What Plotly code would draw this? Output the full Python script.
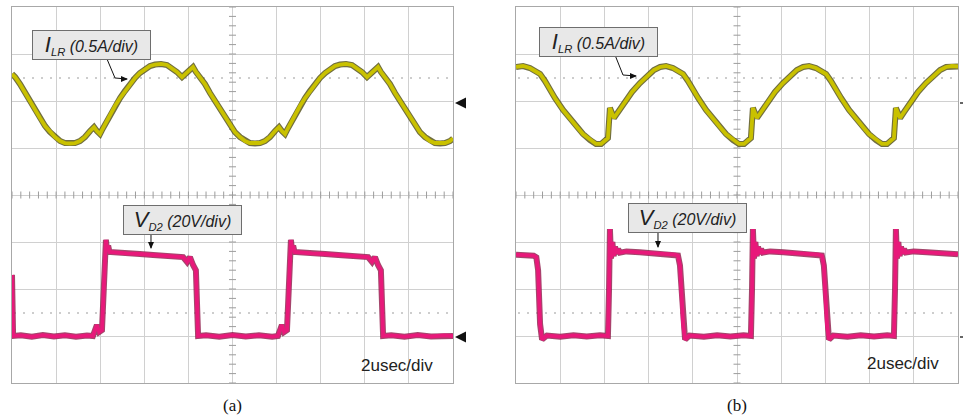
import numpy as np
import plotly.graph_objects as go

# ---------------- data ----------------
# time in microseconds (2 us/div, 10 div), current in A (0.5 A/div), voltage in V (20 V/div)
t_ilr_a = [0.00, 0.14, 0.36, 0.59, 0.82, 1.04, 1.27, 1.50, 1.72, 1.95,
           2.18, 2.40, 2.63, 2.86, 3.08, 3.31, 3.54, 3.72, 3.85, 3.99,
           4.08, 4.22, 4.44, 4.67, 4.90, 5.12, 5.35, 5.58, 5.80, 6.03,
           6.26, 6.49, 6.76, 7.03, 7.26, 7.48, 7.71, 7.89, 8.07, 8.21,
           8.34, 8.53, 8.75, 8.98, 9.21, 9.43, 9.66, 9.89, 10.11, 10.34,
           10.57, 10.79, 11.02, 11.25, 11.47, 11.70, 11.93, 12.11, 12.24, 12.38,
           12.47, 12.61, 12.83, 13.06, 13.29, 13.51, 13.74, 13.97, 14.20, 14.42,
           14.65, 14.88, 15.15, 15.42, 15.65, 15.87, 16.10, 16.28, 16.46, 16.60,
           16.73, 16.92, 17.14, 17.37, 17.60, 17.82, 18.05, 18.28, 18.50, 18.73,
           18.96, 19.18, 19.41, 19.64, 19.86, 20.00]
i_lr_a = [0.287, 0.255, 0.181, 0.085, 0.000, -0.096, -0.181, -0.266, -0.330, -0.383,
          -0.426, -0.447, -0.452, -0.447, -0.426, -0.383, -0.319, -0.277, -0.319, -0.351,
          -0.309, -0.245, -0.149, -0.053, 0.032, 0.106, 0.181, 0.245, 0.298, 0.340,
          0.372, 0.388, 0.394, 0.383, 0.351, 0.309, 0.255, 0.298, 0.340, 0.362,
          0.309, 0.255, 0.181, 0.085, 0.000, -0.096, -0.181, -0.266, -0.330, -0.383,
          -0.426, -0.447, -0.452, -0.447, -0.426, -0.383, -0.319, -0.277, -0.319, -0.351,
          -0.309, -0.245, -0.149, -0.053, 0.032, 0.106, 0.181, 0.245, 0.298, 0.340,
          0.372, 0.388, 0.394, 0.383, 0.351, 0.309, 0.255, 0.298, 0.340, 0.362,
          0.309, 0.255, 0.181, 0.085, 0.000, -0.096, -0.181, -0.266, -0.330, -0.383,
          -0.426, -0.447, -0.452, -0.447, -0.426, -0.400]

t_vd2_a = [0.00, 0.05, 0.40, 0.90, 1.40, 1.90, 2.40, 2.90, 3.40, 3.67,
           3.85, 3.95, 4.08, 4.17, 4.22, 4.26, 4.31, 4.36, 4.42, 4.60,
           5.20, 5.80, 6.40, 7.00, 7.60, 7.76, 7.94, 8.07, 8.21, 8.34,
           8.44, 8.80, 9.40, 10.00, 10.60, 11.20, 11.80, 12.06, 12.24, 12.34,
           12.47, 12.56, 12.61, 12.65, 12.70, 12.75, 12.81, 13.00, 13.60, 14.20,
           14.80, 15.40, 16.00, 16.15, 16.33, 16.46, 16.60, 16.73, 16.83, 17.20,
           17.80, 18.40, 19.00, 19.60, 20.00]
v_d2_a = [26.0, 0.0, 0.3, -0.3, 0.4, -0.2, 0.3, -0.3, 0.2, 0.0,
          4.7, 1.7, 2.5, 20.0, 35.0, 40.9, 36.5, 38.5, 35.8, 35.6,
          35.2, 34.9, 34.5, 34.1, 33.8, 33.6, 31.5, 33.6, 30.2, 28.0,
          0.0, 0.3, -0.3, 0.4, -0.2, 0.3, -0.3, 0.0, 4.7, 1.7,
          2.5, 20.0, 35.0, 40.9, 36.5, 38.5, 35.8, 35.6, 35.2, 34.9,
          34.5, 34.1, 33.8, 33.6, 31.5, 33.6, 30.2, 28.0, 0.0, 0.3,
          -0.3, 0.4, -0.2, 0.3, 0.0]

t_ilr_b = [0.00, 0.32, 0.63, 0.95, 1.09, 1.31, 1.54, 1.76, 2.13, 2.44,
           2.76, 3.03, 3.35, 3.62, 3.85, 4.03, 4.16, 4.25, 4.43, 4.62,
           4.89, 5.25, 5.61, 5.97, 6.24, 6.52, 6.79, 7.10, 7.42, 7.56,
           7.78, 8.01, 8.24, 8.60, 8.91, 9.23, 9.50, 9.82, 10.09, 10.32,
           10.50, 10.63, 10.72, 10.90, 11.09, 11.36, 11.72, 12.08, 12.44, 12.71,
           12.99, 13.26, 13.57, 13.89, 14.03, 14.25, 14.48, 14.71, 15.07, 15.38,
           15.70, 15.97, 16.29, 16.56, 16.79, 16.97, 17.10, 17.19, 17.38, 17.56,
           17.83, 18.19, 18.55, 18.91, 19.19, 19.46, 19.73, 20.00]
i_lr_b = [0.362, 0.372, 0.351, 0.309, 0.287, 0.213, 0.117, 0.032, -0.096, -0.191,
          -0.277, -0.351, -0.415, -0.457, -0.457, -0.426, -0.394, -0.074, -0.181, -0.117,
          -0.021, 0.096, 0.191, 0.277, 0.330, 0.362, 0.372, 0.351, 0.309, 0.287,
          0.213, 0.117, 0.032, -0.096, -0.191, -0.277, -0.351, -0.415, -0.457, -0.457,
          -0.426, -0.394, -0.074, -0.181, -0.117, -0.021, 0.096, 0.191, 0.277, 0.330,
          0.362, 0.372, 0.351, 0.309, 0.287, 0.213, 0.117, 0.032, -0.096, -0.191,
          -0.277, -0.351, -0.415, -0.457, -0.457, -0.426, -0.394, -0.074, -0.181, -0.117,
          -0.021, 0.096, 0.191, 0.277, 0.330, 0.362, 0.372, 0.367]

t_vd2_b = [0.00, 0.40, 0.80, 0.92, 1.00, 1.09, 1.18, 1.40, 2.00, 2.60,
           3.20, 3.80, 4.16, 4.21, 4.25, 4.30, 4.36, 4.42, 4.48, 4.55,
           4.62, 4.70, 5.00, 5.60, 6.20, 6.80, 7.20, 7.33, 7.42, 7.56,
           7.65, 7.85, 8.50, 9.10, 9.70, 10.30, 10.63, 10.68, 10.72, 10.77,
           10.83, 10.89, 10.95, 11.02, 11.09, 11.17, 11.50, 12.10, 12.70, 13.30,
           13.70, 13.84, 13.93, 14.07, 14.16, 14.36, 15.00, 15.60, 16.20, 16.80,
           17.10, 17.15, 17.19, 17.24, 17.30, 17.36, 17.42, 17.49, 17.56, 17.64,
           18.00, 18.60, 19.20, 20.00]
v_d2_b = [34.6, 34.4, 34.2, 33.5, 28.0, 5.0, -1.5, 0.2, -0.3, 0.3,
          -0.2, 0.3, 0.0, 20.0, 45.5, 33.0, 40.0, 34.0, 38.0, 35.0,
          37.0, 35.5, 36.0, 35.6, 35.3, 35.0, 34.6, 34.2, 30.0, 5.0,
          -1.5, 0.2, -0.3, 0.3, -0.2, 0.3, 0.0, 20.0, 45.5, 33.0,
          40.0, 34.0, 38.0, 35.0, 37.0, 35.5, 36.0, 35.6, 35.3, 35.0,
          34.6, 34.2, 30.0, 5.0, -1.5, 0.2, -0.3, 0.3, -0.2, 0.3,
          0.0, 20.0, 45.5, 33.0, 40.0, 34.0, 38.0, 35.0, 37.0, 35.5,
          36.0, 35.6, 35.3, 34.8]

# scope channel settings (scale per division, ground position in divisions)
CH1_SCALE, CH1_GND = 0.5, 6.0
CH2_SCALE, CH2_GND = 20.0, 1.0

label_ilr = "<i><span style='font-size:22px'>I</span><sub>LR</sub> (0.5A/div)</i>"
label_vd2 = "<i><span style='font-size:22px'>V</span><sub>D2</sub> (20V/div)</i>"
timebase = "2usec/div"
panel_labels = ["(a)", "(b)"]

# ---------------- figure ----------------
W, H = 963, 417
def PX(x):
    return x / W
def PY(y):
    return 1 - y / H
def path(pts, close=False):
    s = "M " + " L ".join(f"{PX(x):.5f},{PY(y):.5f}" for x, y in pts)
    return s + (" Z" if close else "")

fig = go.Figure()

YEL, YEL_EDGE = "#c9c100", "#4e4b10"
PINK, PINK_EDGE = "#e8197a", "#8e1848"
GRID = "#d0d0d0"

panels = [
    ("x", "y", t_ilr_a, i_lr_a, t_vd2_a, v_d2_a),
    ("x2", "y2", t_ilr_b, i_lr_b, t_vd2_b, v_d2_b),
]

for xa, ya, ti, ii, tv, vv in panels:
    # minor ticks on center cross
    tx = np.arange(0, 20.01, 0.4)
    fig.add_trace(go.Scatter(x=tx, y=np.full_like(tx, 4.0), xaxis=xa, yaxis=ya, mode="markers",
                             marker=dict(symbol="line-ns", size=5, line=dict(width=1, color="#9c9c9c")),
                             hoverinfo="skip", showlegend=False))
    ty = np.arange(0, 8.01, 0.2)
    fig.add_trace(go.Scatter(x=np.full_like(ty, 10.0), y=ty, xaxis=xa, yaxis=ya, mode="markers",
                             marker=dict(symbol="line-ew", size=5, line=dict(width=1, color="#9c9c9c")),
                             hoverinfo="skip", showlegend=False))
    yi = CH1_GND + np.array(ii) / CH1_SCALE
    yv = CH2_GND + np.array(vv) / CH2_SCALE
    for tt, yy, edge, core in [(ti, yi, YEL_EDGE, YEL), (tv, yv, PINK_EDGE, PINK)]:
        fig.add_trace(go.Scatter(x=tt, y=yy, xaxis=xa, yaxis=ya, mode="lines",
                                 line=dict(color=edge, width=6), opacity=0.8,
                                 hoverinfo="skip", showlegend=False))
        fig.add_trace(go.Scatter(x=tt, y=yy, xaxis=xa, yaxis=ya, mode="lines",
                                 line=dict(color=core, width=3.8),
                                 hoverinfo="skip", showlegend=False))

ax_common = dict(range=[0, 20], dtick=2, tick0=0, showgrid=True, gridcolor=GRID, gridwidth=1,
                 zeroline=False, showline=True, mirror=True, linecolor="#a8a8a8", linewidth=1,
                 showticklabels=False, ticks="", fixedrange=True)
ay_common = dict(range=[0, 8], dtick=1, tick0=0, showgrid=True, gridcolor=GRID, gridwidth=1,
                 zeroline=False, showline=True, mirror=True, linecolor="#a8a8a8", linewidth=1,
                 showticklabels=False, ticks="", fixedrange=True)
ydom = [PY(383), PY(7)]
fig.update_layout(
    width=W, height=H, margin=dict(l=0, r=0, t=0, b=0),
    paper_bgcolor="white", plot_bgcolor="white",
    xaxis=dict(domain=[PX(12), PX(453)], anchor="y", **ax_common),
    yaxis=dict(domain=ydom, anchor="x", **ay_common),
    xaxis2=dict(domain=[PX(516), PX(958)], anchor="y2", **ax_common),
    yaxis2=dict(domain=ydom, anchor="x2", **ay_common),
    showlegend=False,
    font=dict(family="Liberation Sans, Arial, sans-serif", color="#222"),
)

shapes = []
annotations = []
# dotted cursor lines
for x0, x1 in [(12, 453), (516, 958)]:
    for yy in (78, 313):
        shapes.append(dict(type="line", xref="paper", yref="paper", x0=PX(x0 + 2), x1=PX(x1 - 2),
                           y0=PY(yy), y1=PY(yy), line=dict(color="#bdbdbd", width=1.5, dash="2px,7px"),
                           layer="below"))

# ground markers
for yy in (103, 337):
    shapes.append(dict(type="path", xref="paper", yref="paper",
                       path=path([(455, yy), (466, yy - 5.5), (466, yy + 5.5)], True),
                       fillcolor="#111", line=dict(width=0)))
    shapes.append(dict(type="line", xref="paper", yref="paper", x0=PX(960), x1=PX(963),
                       y0=PY(yy), y1=PY(yy), line=dict(color="#333", width=1.5)))

# label boxes with pointer arrows: (text, box centre, pointer polyline, arrowhead direction)
boxes = [
    (label_ilr, 91, 45, [(107, 59), (115, 78), (127, 79)], "right"),
    (label_vd2, 182, 220, [(151, 235), (151, 248)], "down"),
    (label_ilr, 598, 42, [(615, 55), (623, 75), (636, 76)], "right"),
    (label_vd2, 687, 218, [(658, 233), (658, 247)], "down"),
]
for txt, cx, cy, seg, direction in boxes:
    annotations.append(dict(text=txt, xref="paper", yref="paper", x=PX(cx), y=PY(cy),
                            xanchor="center", yanchor="middle", showarrow=False,
                            font=dict(size=16, color="#222", family="Liberation Sans, Arial, sans-serif"),
                            bgcolor="#e8e8e8", bordercolor="#6e6e6e", borderwidth=1,
                            width=113, height=24, borderpad=2))
    shapes.append(dict(type="path", xref="paper", yref="paper", path=path(seg),
                       line=dict(color="#111", width=1)))
    tx_, ty_ = seg[-1]
    if direction == "right":
        head = [(tx_ + 1, ty_), (tx_ - 6, ty_ - 3), (tx_ - 6, ty_ + 3)]
    else:
        head = [(tx_, ty_ + 1), (tx_ - 3, ty_ - 6), (tx_ + 3, ty_ - 6)]
    shapes.append(dict(type="path", xref="paper", yref="paper", path=path(head, True),
                       fillcolor="#111", line=dict(width=0)))

for cx, cy in [(397, 365), (903, 363)]:
    annotations.append(dict(text=timebase, xref="paper", yref="paper", x=PX(cx), y=PY(cy),
                            xanchor="center", yanchor="middle", showarrow=False,
                            font=dict(size=17, color="#222", family="Liberation Sans, Arial, sans-serif")))
for lab, cx in zip(panel_labels, [232, 737]):
    annotations.append(dict(text=lab, xref="paper", yref="paper", x=PX(cx), y=PY(405),
                            xanchor="center", yanchor="middle", showarrow=False,
                            font=dict(size=17, color="#111", family="Liberation Serif, Times New Roman, serif")))

fig.update_layout(shapes=shapes, annotations=annotations)
fig.write_html("out.html", config={"displayModeBar": False},
               post_script="document.body.style.margin='0';document.body.style.overflow='hidden';")
